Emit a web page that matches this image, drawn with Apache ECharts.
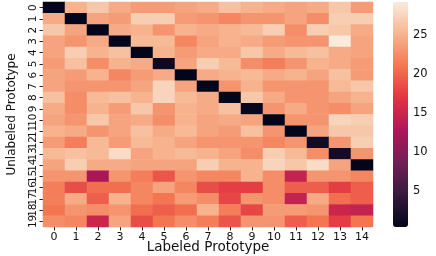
<!DOCTYPE html>
<html>
<head>
<meta charset="utf-8">
<script src="https://cdn.jsdelivr.net/npm/echarts@6/dist/echarts.min.js"></script>
<style>html,body{margin:0;padding:0;background:#fff}#c{width:436px;height:256px}</style>
</head>
<body>
<div id="c"></div>
<script>
const cols = ['0','1','2','3','4','5','6','7','8','9','10','11','12','13','14'];
const rows = ['0','1','2','3','4','5','6','7','8','9','10','11','12','13','14','15','16','17','18','19'];
const r0  = [0.4, 25, 26.5, 24.5, 23.5, 23.5, 24, 24.5, 26, 25, 24.5, 24, 24.5, 26.5, 23.5];
const r1  = [24.5, 0.4, 24, 23.5, 27, 27, 23.5, 23, 22, 23, 23, 24, 22.5, 27, 27];
const r2  = [26.5, 24, 0.4, 24.5, 25, 23, 25, 24.5, 25, 25.5, 27, 22.5, 27, 26.5, 24.5];
const r3  = [24, 23, 24.5, 0.4, 25.5, 25.5, 22, 24, 25, 24.5, 23.5, 23, 23, 29.2, 24];
const r4  = [24, 27, 25, 26, 0.4, 25, 23.5, 24.5, 24.5, 26.5, 24.5, 25.5, 26, 24.5, 24];
const r5  = [23.5, 26, 22.5, 25, 24.5, 1.3, 24, 27, 25.5, 22.5, 21.5, 23, 25, 24.5, 23.5];
const r6  = [24, 23.5, 25, 22, 23.5, 24.5, 0.4, 24.5, 25, 25.5, 24.5, 25, 24, 26, 23.5];
const r7  = [24, 23, 23, 23, 24, 27.5, 24, 0.4, 23, 25, 23, 23, 23, 25.5, 26.5];
const r8  = [26, 22.5, 25.5, 26, 25, 27.5, 25.5, 24.5, 0.4, 26.5, 24.5, 23, 23, 24, 25];
const r9  = [24.5, 22.5, 25, 23.5, 26.5, 23, 25, 24.5, 26, 0.9, 23, 24.5, 23, 22.5, 24];
const r10 = [24, 23, 26.5, 24, 24.5, 22.5, 25, 24, 24.5, 24, 0.4, 23, 23, 27.5, 27];
const r11 = [25, 24.5, 23, 24, 26, 24.5, 25.5, 24, 23.5, 26, 23, 0.4, 24, 26.5, 26.5];
const r12 = [23.5, 21.5, 25.5, 23.5, 25.5, 25, 24, 23, 23, 23, 22, 23, 1.6, 23, 27];
const r13 = [25.5, 26, 25.5, 28, 24, 25, 25.5, 25, 24, 22.5, 27, 25.5, 22.5, 1.8, 23];
const r14 = [24, 27, 24.5, 24.5, 24, 24, 24, 27, 25, 25, 27.5, 26.5, 28, 24, 0.4];
const r15 = [23, 23, 12.5, 23, 21.5, 19, 23, 22, 22, 25, 22.5, 14.5, 23, 23, 22];
const r16 = [21.5, 18.5, 20.5, 20.5, 22, 24, 22, 18.5, 17.5, 17.5, 22.5, 19.5, 19.5, 17.5, 19.5];
const r17 = [21.5, 24.5, 19.5, 25, 22, 21, 23.5, 22.5, 18, 23, 22.5, 14.5, 24.5, 20.5, 19.5];
const r18 = [21, 23, 22.5, 23, 20.5, 19.5, 20.5, 25, 21.5, 18, 23.5, 23.5, 23, 15, 14.5];
const r19 = [22.5, 22, 15, 24, 18.5, 21, 22.5, 21.5, 19, 23, 23, 19.5, 21, 17.5, 21];
const barTicks = [5, 10, 15, 20, 25];
const vMin = 0.4, vMax = 29.2;

const allRows = [r0,r1,r2,r3,r4,r5,r6,r7,r8,r9,r10,r11,r12,r13,r14,r15,r16,r17,r18,r19];
const data = [];
allRows.forEach((r, yi) => r.forEach((v, xi) => data.push([xi, yi, v])));

const rocket = ['#03051A','#35193E','#701F57','#AD1759','#E13342','#F37651','#F6B48F','#FAEBDD'];
const font = 'DejaVu Sans';
const chart = echarts.init(document.getElementById('c'));
chart.setOption({
  animation: false,
  backgroundColor: '#fff',
  grid: [
    {left: 43, top: 2, width: 330, height: 225, outerBoundsMode: 'none', containLabel: false},
    {left: 393, top: 2, width: 15, height: 225, outerBoundsMode: 'none', containLabel: false}
  ],
  xAxis: [
    {type: 'category', data: cols, gridIndex: 0, name: 'Labeled Prototype', nameLocation: 'middle', nameGap: 13, nameMoveOverlap: false,
     nameTextStyle: {fontFamily: font, fontSize: 13.5, color: '#111'},
     axisLine: {show: false}, axisTick: {show: true, length: 3.5, alignWithLabel: true, lineStyle: {color: '#222'}},
     axisLabel: {fontFamily: font, fontSize: 11, color: '#111', margin: 5, interval: 0}, splitLine: {show: false}},
    {type: 'value', gridIndex: 1, show: false, min: 0, max: 1}
  ],
  yAxis: [
    {type: 'category', data: rows, gridIndex: 0, inverse: true, name: 'Unlabeled Prototype', nameLocation: 'middle', nameGap: 25, nameMoveOverlap: false,
     nameTextStyle: {fontFamily: font, fontSize: 12, color: '#111'},
     axisLine: {show: false}, axisTick: {show: true, length: 3.5, alignWithLabel: true, lineStyle: {color: '#222'}},
     axisLabel: {fontFamily: font, fontSize: 10.5, color: '#111', rotate: 90, margin: 4, interval: 0}, splitLine: {show: false}},
    {type: 'value', gridIndex: 1, position: 'right', min: vMin, max: vMax,
     axisLine: {show: false}, splitLine: {show: false},
     axisTick: {show: true, length: 3.5, customValues: barTicks, lineStyle: {color: '#222'}},
     axisLabel: {fontFamily: font, fontSize: 11.5, color: '#111', margin: 5, customValues: barTicks}}
  ],
  visualMap: {
    type: 'continuous', min: vMin, max: vMax, seriesIndex: 0, calculable: false, show: true,
    left: 393, top: 2, itemWidth: 15, itemHeight: 225, padding: 0, text: null, showLabel: false,
    inRange: {color: rocket}
  },
  series: [{
    type: 'heatmap', xAxisIndex: 0, yAxisIndex: 0, data: data,
    itemStyle: {borderWidth: 0}, emphasis: {disabled: true}
  }]
});
</script>
</body>
</html>
